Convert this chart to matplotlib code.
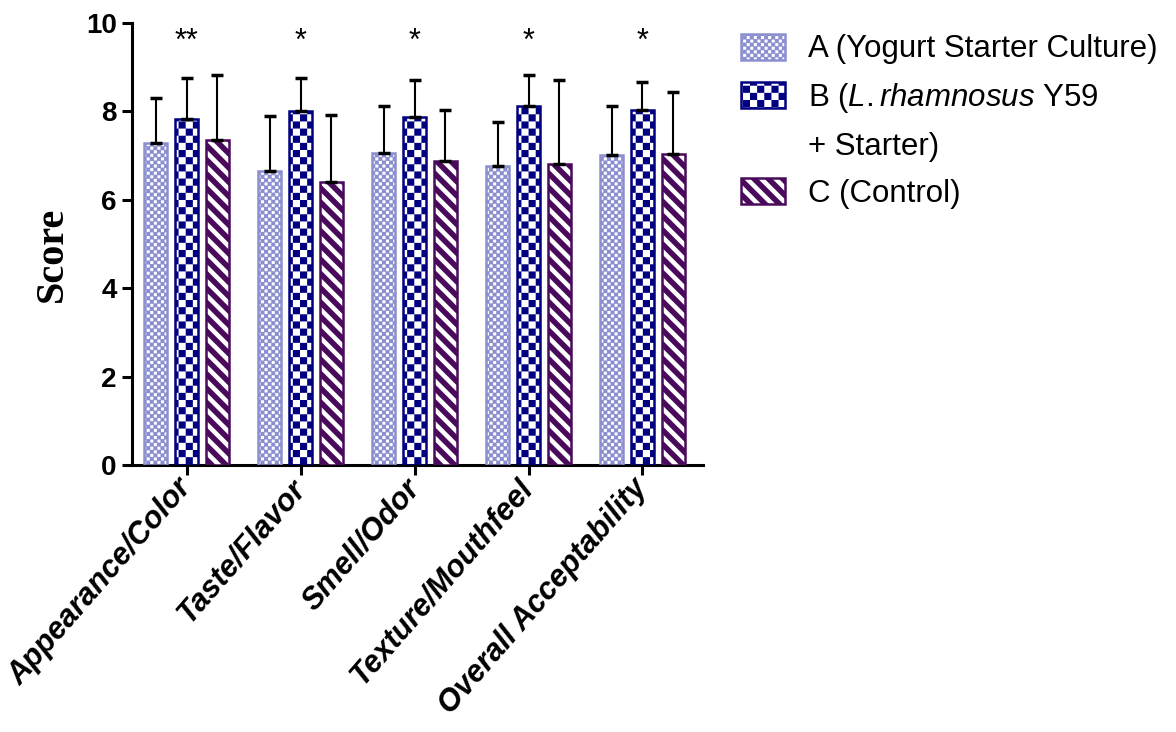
import warnings
import numpy as np
import matplotlib
matplotlib.use("Agg")
import matplotlib.pyplot as plt
from matplotlib import hatch as mhatch
from matplotlib.path import Path
from matplotlib.patches import Patch
from matplotlib.legend_handler import HandlerTuple

warnings.filterwarnings("ignore", message=".*hatch must consist.*")

categories = ["Appearance/Color", "Taste/Flavor", "Smell/Odor",
              "Texture/Mouthfeel", "Overall Acceptability"]
series_labels = ["A (Yogurt Starter Culture)",
                 "B ($\\it{L.rhamnosus}$ Y59",
                 "+ Starter)",
                 "C (Control)"]
mean_a = [7.28, 6.65, 7.06, 6.77, 7.01]
sd_a = [1.02, 1.25, 1.06, 0.99, 1.11]
mean_b = [7.83, 8.01, 7.87, 8.12, 8.03]
sd_b = [0.93, 0.75, 0.84, 0.70, 0.64]
mean_c = [7.35, 6.40, 6.88, 6.81, 7.03]
sd_c = [1.47, 1.52, 1.15, 1.90, 1.41]
signif = ["**", "*", "*", "*", "*"]
yticks = [0, 2, 4, 6, 8, 10]

col_a = "#8b8fd0"
col_b = "#000080"
col_c = "#4a0a5c"

SQ_CODES = [Path.MOVETO, Path.LINETO, Path.LINETO, Path.LINETO, Path.CLOSEPOLY]


# checkerboard hatch, 'c' = coarse, 'cc' = fine (with slightly smaller squares)
class CheckerHatch(mhatch.HatchPatternBase):
    def __init__(self, hatch, density):
        k = hatch.count("c")
        self.cells = 14 * k
        self.frac = 1.0 if k < 2 else 0.85
        self.num_vertices = 5 * (self.cells * self.cells // 2) if k else 0

    def set_vertices_and_codes(self, vertices, codes):
        n = self.cells
        s = 1.0 / n
        a = s * (1 - self.frac) / 2
        b = s - a
        sq = np.array([[a, a], [b, a], [b, b], [a, b], [a, a]])
        cur = 0
        for i in range(n):
            for j in range(n):
                if (i + j) % 2 == 0:
                    vertices[cur:cur + 5] = sq + [i * s, j * s]
                    codes[cur:cur + 5] = SQ_CODES
                    cur += 5


# filled "\" stripes, each 'd' adds 7 stripes per inch
class BandHatch(mhatch.HatchPatternBase):
    def __init__(self, hatch, density):
        k = hatch.count("d")
        self.n = 7 * k
        self.num_vertices = 5 * (2 * self.n + 2) if k else 0

    def set_vertices_and_codes(self, vertices, codes):
        n = self.n
        t = 0.55 / n
        cur = 0
        for j in range(-1, 2 * n + 1):
            c = j / n
            vertices[cur:cur + 5] = [(c + 1, -1), (c + t + 1, -1), (c + t - 2, 2),
                                     (c - 2, 2), (c + 1, -1)]
            codes[cur:cur + 5] = SQ_CODES
            cur += 5


mhatch._hatch_types.append(CheckerHatch)
mhatch._hatch_types.append(BandHatch)

plt.rcParams["font.family"] = ["Liberation Sans", "DejaVu Sans"]
plt.rcParams["mathtext.fontset"] = "custom"
plt.rcParams["mathtext.rm"] = "Liberation Sans"
plt.rcParams["mathtext.it"] = "Liberation Sans:italic"
plt.rcParams["hatch.linewidth"] = 0.01

fig = plt.figure(figsize=(11.76, 7.32), dpi=100)
ax = fig.add_axes([0.1122, 0.3648, 0.4855, 0.6038])

x = np.arange(len(categories))
w = 0.2
off = 0.27

fill_a = ax.bar(x - off, mean_a, w, color=col_a, edgecolor="white", hatch="cc",
                linewidth=0, zorder=2)
edge_a = ax.bar(x - off, mean_a, w, facecolor="none", edgecolor=col_a,
                linewidth=1.8, zorder=3)
fill_b = ax.bar(x, mean_b, w, color=col_b, edgecolor="white", hatch="c",
                linewidth=0, zorder=2)
edge_b = ax.bar(x, mean_b, w, facecolor="none", edgecolor=col_b,
                linewidth=1.8, zorder=3)
bars_c = ax.bar(x + off, mean_c, w, facecolor="white", edgecolor=col_c,
                hatch="d", linewidth=1.8, zorder=3)

for xs, m, s in [(x - off, mean_a, sd_a), (x, mean_b, sd_b), (x + off, mean_c, sd_c)]:
    ax.errorbar(xs, m, yerr=[np.zeros(len(m)), s], fmt="none", ecolor="black",
                elinewidth=1.5, capsize=4.5, capthick=2.5, zorder=4)

for xi, t in zip(x, signif):
    ax.text(xi, 9.38, t, ha="center", va="baseline", fontsize=22)

ax.set_xlim(-0.48, 4.53)
ax.set_ylim(0, 10)
ax.set_yticks(yticks)
ax.set_yticklabels([str(v) for v in yticks], fontsize=20, fontweight="bold")
ax.set_xticks(x)
ax.set_xticklabels(categories, fontsize=22, fontweight="bold", fontstyle="italic",
                   rotation=49, ha="right", va="center", rotation_mode="anchor")
ax.tick_params(axis="both", width=2.2, length=7, direction="out", pad=4)
ax.tick_params(axis="x", pad=6)
for side in ["top", "right"]:
    ax.spines[side].set_visible(False)
for side in ["left", "bottom"]:
    ax.spines[side].set_linewidth(2.2)

ax.set_ylabel("Score", fontsize=29, fontweight="bold", family="Liberation Serif",
              labelpad=8)
ax.yaxis.set_label_coords(-0.107, 0.477)

blank = Patch(facecolor="none", edgecolor="none")
ax.legend([(fill_a, edge_a), (fill_b, edge_b), blank, bars_c], series_labels,
          handler_map={tuple: HandlerTuple(ndivide=1, pad=0)},
          loc="upper left", bbox_to_anchor=(0.630, 0.954),
          bbox_transform=fig.transFigure, frameon=False, fontsize=22.5,
          borderpad=0, borderaxespad=0, handlelength=1.42, handleheight=0.9,
          handletextpad=0.72, labelspacing=0.52)

fig.savefig("out.png", dpi=100)
